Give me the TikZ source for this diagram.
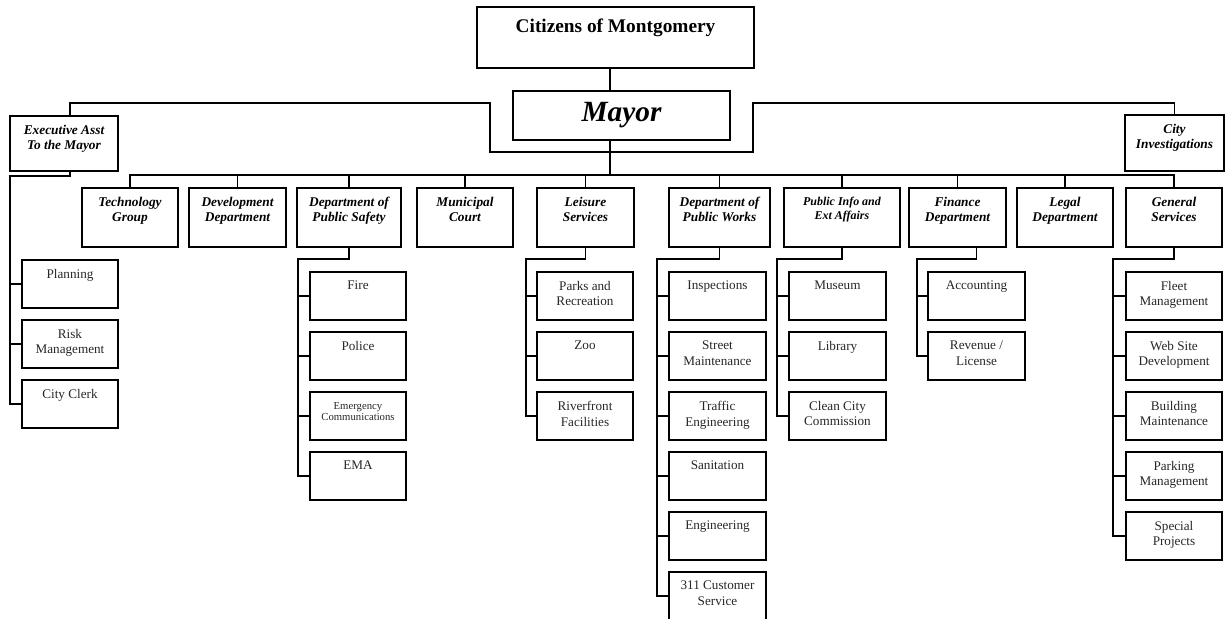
\documentclass[tikz,border=0pt]{standalone}
\usepackage{fontspec}
\setmainfont{Liberation Serif}

\begin{document}
\begin{tikzpicture}[x=0.02cm,y=-0.02cm,
		box/.style={draw,line width=1pt,inner sep=0pt,minimum width=1.93cm,minimum height=0.96cm},
		dept/.style={box,minimum height=1.18cm},
		sub/.style={anchor=north,align=center,inner sep=5.4pt,text=black!85,font=\fontsize{7.5}{9}\selectfont},
		head/.style={sub,text=black,font=\fontsize{7.6}{8.6}\selectfont\bfseries\itshape},
		link/.style={line width=0.9pt}]
		\useasboundingbox (0,0) rectangle (1225,619);
		% top of the chart
		\node[box,minimum width=5.54cm,minimum height=1.22cm,label={[sub,inner sep=7pt,text=black,font=\fontsize{11}{13}\selectfont\bfseries]north:Citizens of Montgomery}] (citizens) at (615.5,37.5) {};
		\node[box,minimum width=4.34cm,minimum height=0.98cm,font=\fontsize{16.7}{20}\selectfont\bfseries\itshape] (mayor) at (621.5,115.5) {\raisebox{-1.5pt}{Mayor}};
		\node[box,minimum width=2.16cm,minimum height=1.1cm,label={[head]north:{Executive Asst\\To the Mayor}}] (exec) at (64,143.5) {};
		\node[box,minimum width=1.98cm,minimum height=1.12cm,label={[head]north:{City\\Investigations}}] (cityinv) at (1174.5,143) {};
		% departments
		\node[dept,label={[head]north:{Technology\\Group}}] (tech) at (130,217.5) {};
		\node[dept,label={[head]north:{Development\\Department}}] (devel) at (237.5,217.5) {};
		\node[dept,minimum width=2.08cm,label={[head]north:{Department of\\Public Safety}}] (safety) at (349,217.5) {};
		\node[dept,label={[head]north:{Municipal\\Court}}] (court) at (465,217.5) {};
		\node[dept,label={[head]north:{Leisure\\Services}}] (leisure) at (585.5,217.5) {};
		\node[dept,minimum width=2.02cm,label={[head]north:{Department of\\Public Works}}] (works) at (719.5,217.5) {};
		\node[dept,minimum width=2.32cm,label={[head,font=\fontsize{6.8}{8}\selectfont\bfseries\itshape]north:{Public Info and\\Ext Affairs}}] (pubinfo) at (842,217.5) {};
		\node[dept,label={[head]north:{Finance\\Department}}] (finance) at (957.5,217.5) {};
		\node[dept,label={[head]north:{Legal\\Department}}] (legal) at (1065,217.5) {};
		\node[dept,label={[head]north:{General\\Services}}] (gensvc) at (1174,217.5) {};
		% executive assistant
		\node[box,label={[sub]north:Planning}] (plan) at (70,284) {};
		\node[box,label={[sub]north:{Risk\\Management}}] (risk) at (70,344) {};
		\node[box,label={[sub]north:City Clerk}] (clerk) at (70,404) {};
		% public safety
		\node[box,label={[sub]north:Fire}] (fire) at (358,296) {};
		\node[box,label={[sub]north:Police}] (police) at (358,356) {};
		\node[box,label={[sub,inner sep=6pt,font=\fontsize{6.1}{6.8}\selectfont]north:{Emergency\\Communications}}] (emcomm) at (358,416) {};
		\node[box,label={[sub]north:EMA}] (ema) at (358,476) {};
		% leisure
		\node[box,label={[sub]north:{Parks and\\Recreation}}] (parks) at (585,296) {};
		\node[box,label={[sub]north:Zoo}] (zoo) at (585,356) {};
		\node[box,label={[sub]north:{Riverfront\\Facilities}}] (river) at (585,416) {};
		% public works
		\node[box,label={[sub]north:Inspections}] (insp) at (717.5,296) {};
		\node[box,label={[sub]north:{Street\\Maintenance}}] (street) at (717.5,356) {};
		\node[box,label={[sub]north:{Traffic\\Engineering}}] (traffic) at (717.5,416) {};
		\node[box,label={[sub]north:Sanitation}] (sanit) at (717.5,476) {};
		\node[box,label={[sub]north:Engineering}] (engin) at (717.5,536) {};
		\node[box,label={[sub]north:{311 Customer\\Service}}] (service) at (717.5,596) {};
		% public info
		\node[box,label={[sub]north:Museum}] (museum) at (837.5,296) {};
		\node[box,label={[sub]north:Library}] (library) at (837.5,356) {};
		\node[box,label={[sub]north:{Clean City\\Commission}}] (clean) at (837.5,416) {};
		% finance
		\node[box,label={[sub]north:Accounting}] (account) at (976.5,296) {};
		\node[box,label={[sub]north:{Revenue /\\License}}] (revenue) at (976.5,356) {};
		% general services
		\node[box,label={[sub]north:{Fleet\\Management}}] (fleet) at (1174,296) {};
		\node[box,label={[sub]north:{Web Site\\Development}}] (website) at (1174,356) {};
		\node[box,label={[sub]north:{Building\\Maintenance}}] (building) at (1174,416) {};
		\node[box,label={[sub]north:{Parking\\Management}}] (parking) at (1174,476) {};
		\node[box,label={[sub]north:{Special\\Projects}}] (special) at (1174,536) {};

		% connectors
		\coordinate (trunk) at (610,175);
		\draw[link] (citizens.south -| trunk) -- (mayor.north -| trunk);
		\draw[link] (mayor.south -| trunk) -- (trunk);
		\draw[link] ([xshift=0.12cm]exec.north) |- (490,103) |- (753,152) -- (753,103) -| (cityinv.north);
		\draw[link] (tech.north) |- (trunk) -| (gensvc.north);
		\draw[link] (devel.north) -- (devel.north |- trunk);
		\draw[link] (safety.north) -- (safety.north |- trunk);
		\draw[link] (court.north) -- (court.north |- trunk);
		\draw[link] (leisure.north) -- (leisure.north |- trunk);
		\draw[link] (works.north) -- (works.north |- trunk);
		\draw[link] (pubinfo.north) -- (pubinfo.north |- trunk);
		\draw[link] (finance.north) -- (finance.north |- trunk);
		\draw[link] (legal.north) -- (legal.north |- trunk);

		\draw[link] ([xshift=0.12cm]exec.south) |- (10,176) |- (clerk.west);
		\draw[link] (plan.west) -- ++(-12,0);
		\draw[link] (risk.west) -- ++(-12,0);

		\draw[link] (safety.south) |- (298,259) |- (ema.west);
		\draw[link] (fire.west) -- ++(-12,0);
		\draw[link] (police.west) -- ++(-12,0);
		\draw[link] (emcomm.west) -- ++(-12,0);

		\draw[link] (leisure.south) |- (526,259) |- (river.west);
		\draw[link] (parks.west) -- ++(-11,0);
		\draw[link] (zoo.west) -- ++(-11,0);

		\draw[link] (works.south) |- (657,259) |- (service.west);
		\draw[link] (insp.west) -- ++(-12,0);
		\draw[link] (street.west) -- ++(-12,0);
		\draw[link] (traffic.west) -- ++(-12,0);
		\draw[link] (sanit.west) -- ++(-12,0);
		\draw[link] (engin.west) -- ++(-12,0);

		\draw[link] (pubinfo.south) |- (777,259) |- (clean.west);
		\draw[link] (museum.west) -- ++(-12,0);
		\draw[link] (library.west) -- ++(-12,0);

		\draw[link] ([xshift=0.38cm]finance.south) |- (917,259) |- (revenue.west);
		\draw[link] (account.west) -- ++(-11,0);

		\draw[link] (gensvc.south) |- (1113,259) |- (special.west);
		\draw[link] (fleet.west) -- ++(-13,0);
		\draw[link] (website.west) -- ++(-13,0);
		\draw[link] (building.west) -- ++(-13,0);
		\draw[link] (parking.west) -- ++(-13,0);
\end{tikzpicture}
\end{document}
